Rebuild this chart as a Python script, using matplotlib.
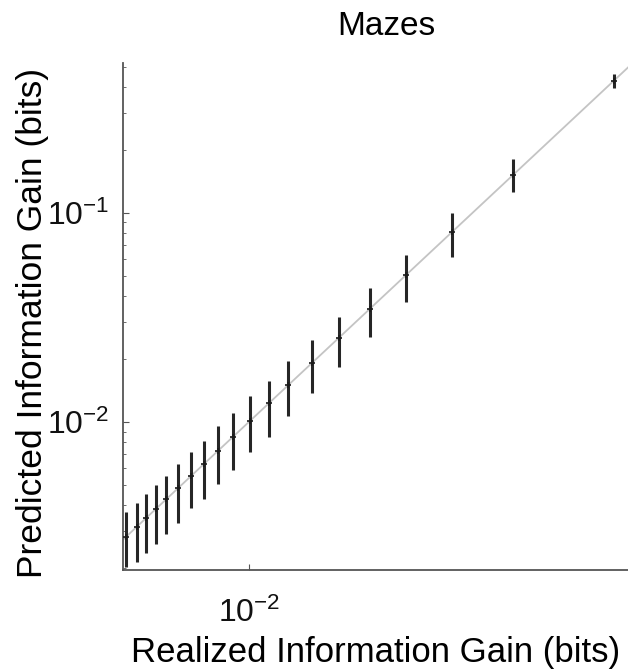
import numpy as np
import matplotlib
matplotlib.use('Agg')
import matplotlib.pyplot as plt
from matplotlib.ticker import LogLocator, NullFormatter, NullLocator

plt.rcParams['font.family'] = ['Liberation Sans', 'DejaVu Sans']
plt.rcParams['mathtext.default'] = 'regular'

# realized vs predicted information gain (bits)
realized = [0.00282, 0.00315, 0.00348, 0.00384, 0.00428, 0.00483, 0.00552, 0.00630,
            0.00726, 0.00848, 0.0101, 0.0123, 0.0150, 0.0191, 0.0252, 0.0347,
            0.0505, 0.0811, 0.152, 0.428]
predicted = realized
upper = [0.00371, 0.00409, 0.00453, 0.00500, 0.00552, 0.00630, 0.00718, 0.00811,
         0.00957, 0.0110, 0.0133, 0.0157, 0.0196, 0.0247, 0.0318, 0.0438,
         0.0630, 0.100, 0.180, 0.462]
lower = [0.00202, 0.00214, 0.00236, 0.00261, 0.00291, 0.00329, 0.00388, 0.00428,
         0.00505, 0.00589, 0.00718, 0.00848, 0.0107, 0.0138, 0.0183, 0.0255,
         0.0375, 0.0615, 0.126, 0.396]
identity = [1e-3, 1.0]
xticks = [1e-2]
yticks = [1e-2, 1e-1]

fig = plt.figure(figsize=(6.28, 6.71), dpi=100)
ax = fig.add_axes([0.196, 0.1505, 0.81, 0.7555])

ax.set_xscale('log')
ax.set_yscale('log')

# y = x reference line
ax.plot(identity, identity, color='#c4c4c4', linewidth=1.3, zorder=1)

pred = np.array(predicted)
yerr = [pred - np.array(lower), np.array(upper) - pred]
ax.errorbar(realized, predicted, yerr=yerr, fmt='+', color='#1a1a1a', ecolor='#262626',
            elinewidth=2.2, capsize=0, markersize=5, markeredgewidth=1.2, zorder=3)

ax.set_xlim(0.00274, 0.515)
ax.set_ylim(0.00196, 0.52)

for side in ['top', 'right']:
    ax.spines[side].set_visible(False)
for side in ['left', 'bottom']:
    ax.spines[side].set_color('#555555')
    ax.spines[side].set_linewidth(1.3)

ax.set_xticks(xticks)
ax.set_yticks(yticks)
ax.xaxis.set_minor_locator(NullLocator())
ax.yaxis.set_minor_locator(LogLocator(base=10, subs=np.arange(2, 10), numticks=10))
ax.yaxis.set_minor_formatter(NullFormatter())
ax.tick_params(which='both', direction='in', colors='#555555', labelcolor='#111111',
               labelsize=23)
ax.tick_params(which='major', length=4)
ax.tick_params(axis='x', which='major', pad=20)
ax.tick_params(axis='y', which='major', pad=10)
ax.tick_params(which='minor', length=2.5)

ax.set_title('Mazes', fontsize=24, pad=20, x=0.517)
ax.set_xlabel('Realized Information Gain (bits)', fontsize=25)
ax.set_ylabel('Predicted Information Gain (bits)', fontsize=25.5)
ax.xaxis.set_label_coords(0.497, -0.13)
ax.yaxis.set_label_coords(-0.145, 0.487)

fig.savefig('out.png', dpi=100, facecolor='white')
